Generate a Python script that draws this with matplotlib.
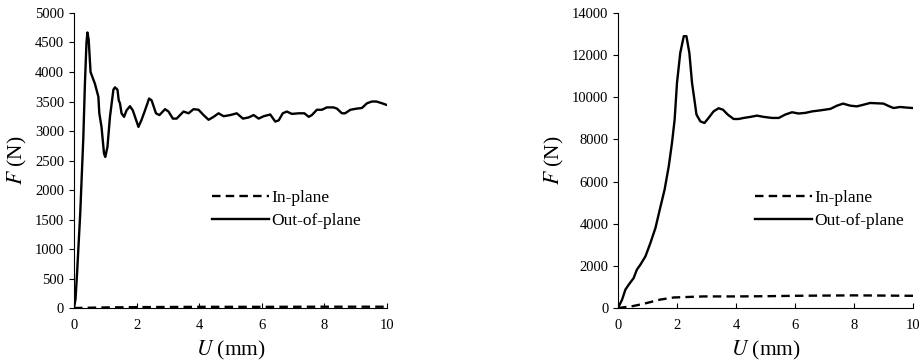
import numpy as np
import matplotlib
matplotlib.use("Agg")
import matplotlib.pyplot as plt

plt.rcParams['font.family'] = ['Liberation Serif', 'DejaVu Serif']
plt.rcParams['mathtext.fontset'] = 'stix'

# left panel: out-of-plane (U mm, F N)
u_out_a = [0, 0.05, 0.1, 0.2, 0.3, 0.35, 0.4, 0.43, 0.47, 0.53, 0.67, 0.78, 0.81, 0.88,
           0.96, 1.0, 1.07, 1.15, 1.26, 1.31, 1.39, 1.43, 1.47, 1.52, 1.6, 1.68, 1.79,
           1.88, 1.97, 2.06, 2.16, 2.27, 2.4, 2.48, 2.62, 2.73, 2.91, 3.02, 3.16, 3.28,
           3.5, 3.66, 3.82, 3.98, 4.14, 4.3, 4.46, 4.62, 4.78, 4.99, 5.2, 5.4, 5.58, 5.74,
           5.9, 6.06, 6.27, 6.43, 6.54, 6.67, 6.8, 6.96, 7.18, 7.36, 7.5, 7.6, 7.76, 7.92,
           8.08, 8.29, 8.4, 8.56, 8.66, 8.83, 9.04, 9.2, 9.36, 9.52, 9.66, 9.84, 10.0]
f_out_a = [0, 150, 600, 1600, 2900, 3800, 4500, 4670, 4550, 4000, 3800, 3580, 3300, 3070,
           2620, 2560, 2730, 3240, 3700, 3740, 3700, 3520, 3470, 3300, 3240, 3350, 3420,
           3350, 3210, 3070, 3190, 3350, 3550, 3520, 3300, 3270, 3370, 3330, 3210, 3210,
           3330, 3300, 3370, 3360, 3270, 3190, 3240, 3300, 3250, 3270, 3300, 3210, 3230, 3270,
           3210, 3250, 3280, 3160, 3180, 3300, 3330, 3290, 3300, 3300, 3240, 3270, 3360, 3360,
           3400, 3400, 3380, 3300, 3300, 3360, 3380, 3390, 3470, 3500, 3500, 3470, 3440]
u_in_a = [0, 1, 2, 4, 6, 8, 10]
f_in_a = [0, 10, 15, 20, 20, 22, 22]

# right panel
u_out_b = [0, 0.14, 0.25, 0.36, 0.53, 0.64, 0.76, 0.93, 1.1, 1.27, 1.43, 1.58, 1.72, 1.83,
           1.92, 2.0, 2.11, 2.23, 2.32, 2.42, 2.51, 2.59, 2.66, 2.79, 2.93, 3.07, 3.24, 3.41,
           3.56, 3.72, 3.92, 4.09, 4.26, 4.49, 4.71, 4.94, 5.22, 5.45, 5.67, 5.9, 6.12, 6.35,
           6.58, 6.86, 7.2, 7.42, 7.63, 7.88, 8.1, 8.33, 8.55, 9.0, 9.2, 9.34, 9.56, 9.8, 10.0]
f_out_b = [0, 400, 870, 1100, 1420, 1820, 2060, 2450, 3090, 3800, 4750, 5620, 6720, 7830,
           8940, 10680, 12100, 12900, 12900, 12100, 10680, 9890, 9180, 8860, 8780, 9020, 9330, 9480,
           9410, 9180, 8970, 8970, 9020, 9070, 9130, 9070, 9020, 9020, 9180, 9290, 9230, 9260,
           9330, 9380, 9450, 9600, 9700, 9600, 9570, 9650, 9730, 9700, 9570, 9490, 9540, 9510, 9490]
u_in_b = [0, 0.5, 0.87, 1.43, 1.89, 2.9, 4.0, 5.0, 6.0, 8.0, 10.0]
f_in_b = [0, 90, 200, 400, 500, 550, 550, 560, 580, 600, 580]

fig = plt.figure(figsize=(9.21, 3.64), dpi=100)
ax1 = fig.add_axes([0.0803, 0.1538, 0.3399, 0.8105])
ax2 = fig.add_axes([0.671, 0.1538, 0.3203, 0.8105])

panels = [
    (ax1, u_in_a, f_in_a, u_out_a, f_out_a, 5000, 500, 0.441),
    (ax2, u_in_b, f_in_b, u_out_b, f_out_b, 14000, 2000, 0.464),
]
for ax, ui, fi, uo, fo, ymax, ystep, lx in panels:
    ax.plot(ui, fi, color='black', lw=1.7, ls=(0, (3.6, 2.2)), label='In-plane')
    ax.plot(uo, fo, color='black', lw=1.7, label='Out-of-plane', solid_joinstyle='round')
    ax.set_xlim(0, 10)
    ax.set_ylim(0, ymax)
    ax.set_xticks(np.arange(0, 11, 2))
    ax.set_yticks(np.arange(0, ymax + 1, ystep))
    ax.spines['top'].set_visible(False)
    ax.spines['right'].set_visible(False)
    ax.tick_params(axis='x', direction='in', labelsize=10.5, pad=8)
    ax.tick_params(axis='y', direction='out', labelsize=10.5)
    ax.set_xlabel('$U$ (mm)', fontsize=15.5, labelpad=5)
    ax.set_ylabel('$F$ (N)', fontsize=15.5)
    ax.legend(loc='center left', bbox_to_anchor=(lx, 0.334), frameon=False,
              fontsize=12.5, handlelength=3.3, handletextpad=0.1,
              labelspacing=0.4, borderpad=0, borderaxespad=0)

fig.savefig('out.png', dpi=100)
